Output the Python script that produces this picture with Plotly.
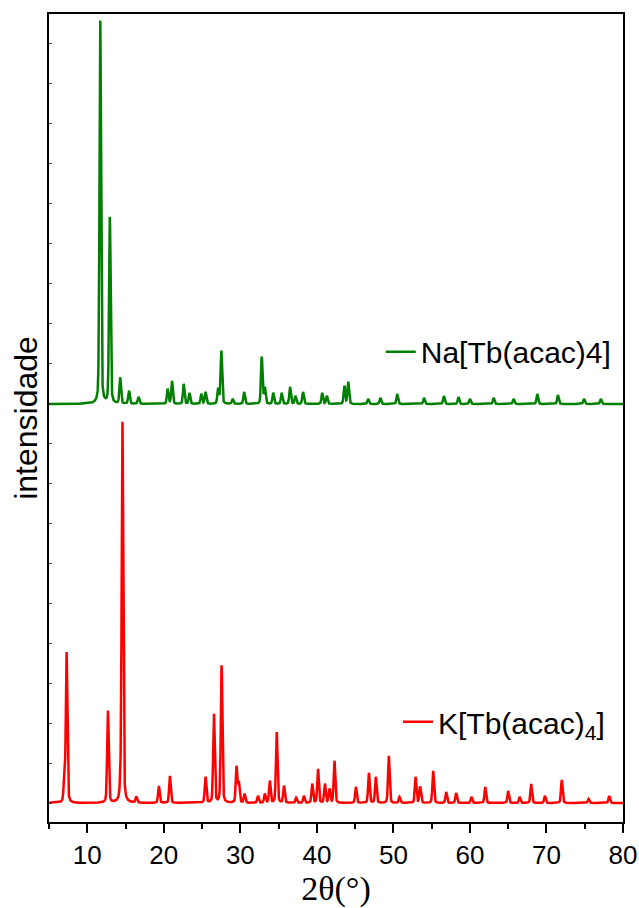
import numpy as np
import plotly.graph_objects as go

# ---- data: peak lists (2theta in degrees, height in arbitrary units) ----
k_pos = [7.0, 7.3, 12.7, 14.35, 14.6, 16.4, 19.35, 20.8, 25.45, 26.55, 27.55, 29.5, 29.8, 30.55,
         32.3, 33.2, 33.85, 34.75, 35.7, 37.3, 38.3, 39.4, 40.15, 41.05, 41.65, 42.3, 45.1, 46.8,
         47.7, 49.4, 50.8, 52.9, 53.5, 55.2, 56.9, 58.2, 60.2, 62.0, 65.0, 66.5, 68.0, 69.8,
         72.0, 75.5, 78.2]
k_hgt = [20, 150, 92, 12, 380, 6, 17, 27, 26, 89, 138, 36, 20, 9,
         7, 9, 22, 71, 17, 5, 7, 19, 34, 19, 14, 42, 16, 30,
         26, 47, 6, 26, 16, 32, 11, 10, 6, 16, 12, 6, 19, 7,
         23, 4, 7]

na_pos = [11.7, 12.95, 14.3, 15.45, 16.7, 20.5, 21.07, 22.6, 23.35, 24.9, 25.45, 27.1, 27.52,
          29.0, 30.5, 32.8, 33.2, 34.3, 35.4, 36.5, 37.2, 38.2, 40.7, 41.3, 43.6, 44.1,
          46.7, 48.3, 50.5, 54.0, 56.6, 58.5, 60.0, 63.1, 65.7, 68.8, 71.5, 74.9, 77.1]
na_hgt = [383, 187, 26, 13, 7, 15, 23, 20, 11, 10, 12, 15, 53,
          5, 12, 47, 16, 11, 11, 17, 8, 12, 11, 8, 18, 22,
          5, 6, 10, 6, 8, 7, 5, 6, 5, 10, 9, 5, 5]

na_offset = 399
x_range = [5, 80]
y_range = [-19, 789]
x_ticks = [10, 20, 30, 40, 50, 60, 70, 80]
x_minor = [5, 15, 25, 35, 45, 55, 65, 75]

two_theta = np.arange(5.0, 80.001, 0.02)


def profile(pos, hgt, fwhm=0.24, eta=0.3):
    y = np.zeros_like(two_theta)
    for c, h in zip(pos, hgt):
        d = (two_theta - c) / fwhm
        g = np.exp(-4 * np.log(2) * d ** 2)
        l = 1.0 / (1.0 + 4 * d ** 2)
        y += h * ((1 - eta) * g + eta * l)
    return y


y_k = profile(k_pos, k_hgt)
y_na = profile(na_pos, na_hgt) + na_offset

FONT = "Arial, Liberation Sans, sans-serif"
SERIF = "Liberation Serif, Times New Roman, serif"

fig = go.Figure()
fig.add_trace(go.Scatter(x=two_theta, y=y_na, mode="lines", name="Na[Tb(acac)4]",
                         line=dict(color="#008000", width=2.5), legend="legend", showlegend=True))
fig.add_trace(go.Scatter(x=two_theta, y=y_k, mode="lines", name="K[Tb(acac)<sub>4</sub>]",
                         line=dict(color="#ff0000", width=2.5), legend="legend2", showlegend=True))

fig.update_layout(
    width=639, height=908,
    margin=dict(l=49, r=16, t=14, b=86),
    paper_bgcolor="white", plot_bgcolor="white",
    font=dict(family=FONT, color="black"),
    showlegend=True,
    legend=dict(x=0.578, y=0.582, xanchor="left", yanchor="middle",
                font=dict(size=30, family=FONT), bgcolor="rgba(0,0,0,0)"),
    legend2=dict(x=0.608, y=0.124, xanchor="left", yanchor="middle",
                 font=dict(size=30, family=FONT), bgcolor="rgba(0,0,0,0)"),
    xaxis=dict(range=x_range, tickvals=x_ticks, ticks="outside", ticklen=9, tickwidth=1.5,
               tickcolor="black", showline=True, linecolor="black", linewidth=2, mirror=True,
               showgrid=False, zeroline=False, automargin=False,
               tickfont=dict(size=26, family=FONT),
               minor=dict(tickvals=x_minor, ticks="outside",
                          ticklen=5, tickwidth=1.5, tickcolor="black"),
               title=dict(text="2θ(°)", font=dict(size=34, family=SERIF), standoff=8)),
    yaxis=dict(range=y_range, showticklabels=False, ticks="inside", ticklen=3, dtick=40,
               tickcolor="#444", showline=True, linecolor="black", linewidth=2, mirror=True,
               showgrid=False, zeroline=False, automargin=False,
               title=dict(text="intensidade", font=dict(size=32, family=FONT), standoff=0)),
)

fig.write_html("out.html")
